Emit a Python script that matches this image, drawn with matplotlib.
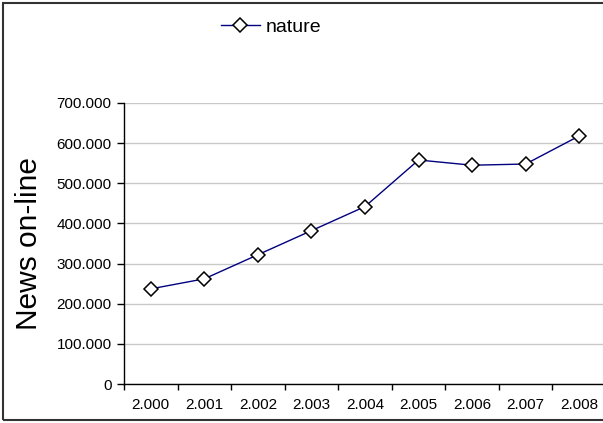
import matplotlib.pyplot as plt
from matplotlib.patches import Rectangle
from matplotlib.ticker import FuncFormatter, MultipleLocator

plt.rcParams['font.family'] = ['Liberation Sans', 'DejaVu Sans']

years = ["2.000", "2.001", "2.002", "2.003", "2.004", "2.005", "2.006", "2.007", "2.008"]
news = [237000, 262000, 322000, 382000, 442000, 558000, 545000, 548000, 618000]

W, H = 603, 423
fig = plt.figure(figsize=(W / 100, H / 100), dpi=100)

# outer chart border (right side falls off the image like the original)
fig.patches.append(Rectangle((3 / W, 3 / H), 1.2, (H - 6) / H, transform=fig.transFigure,
                             fill=False, edgecolor="#333333", linewidth=1.5))

ax = fig.add_axes([124 / W, 39 / H, 482 / W, 281 / H])
x = list(range(len(years)))
ax.plot(x, news, color="#000080", linewidth=1.0, marker="D", markersize=6.8,
        markerfacecolor="white", markeredgecolor="black", markeredgewidth=1.1,
        label="nature", clip_on=False, zorder=3)

ax.set_xlim(-0.5, len(years) - 0.5)
ax.set_ylim(0, 700000)
ax.yaxis.set_major_locator(MultipleLocator(100000))
ax.yaxis.set_major_formatter(FuncFormatter(lambda v, p: f"{v:,.0f}".replace(",", ".")))
ax.grid(axis="y", color="#c8c8c8", linewidth=1.0)
ax.set_axisbelow(True)

ax.set_xticks(x)
ax.set_xticklabels(years)
ax.set_xticks([i - 0.5 for i in range(len(years) + 1)], minor=True)
ax.tick_params(axis="x", which="major", length=0, pad=10, labelsize=11)
ax.tick_params(axis="x", which="minor", length=4, width=1, direction="out")
ax.tick_params(axis="y", length=5, width=1, pad=4, labelsize=11)

for s in ["top", "right"]:
    ax.spines[s].set_visible(False)
for s in ["left", "bottom"]:
    ax.spines[s].set_linewidth(1.0)

ax.set_ylabel("News on-line", fontsize=21.5)
ax.yaxis.set_label_coords(-81 / 482, 0.5)

ax.legend(loc="center", bbox_to_anchor=(271 / W, 1 - 27 / H), bbox_transform=fig.transFigure,
          frameon=False, fontsize=14, handlelength=2.0, handletextpad=0.3)

fig.savefig("out.png", dpi=100)
